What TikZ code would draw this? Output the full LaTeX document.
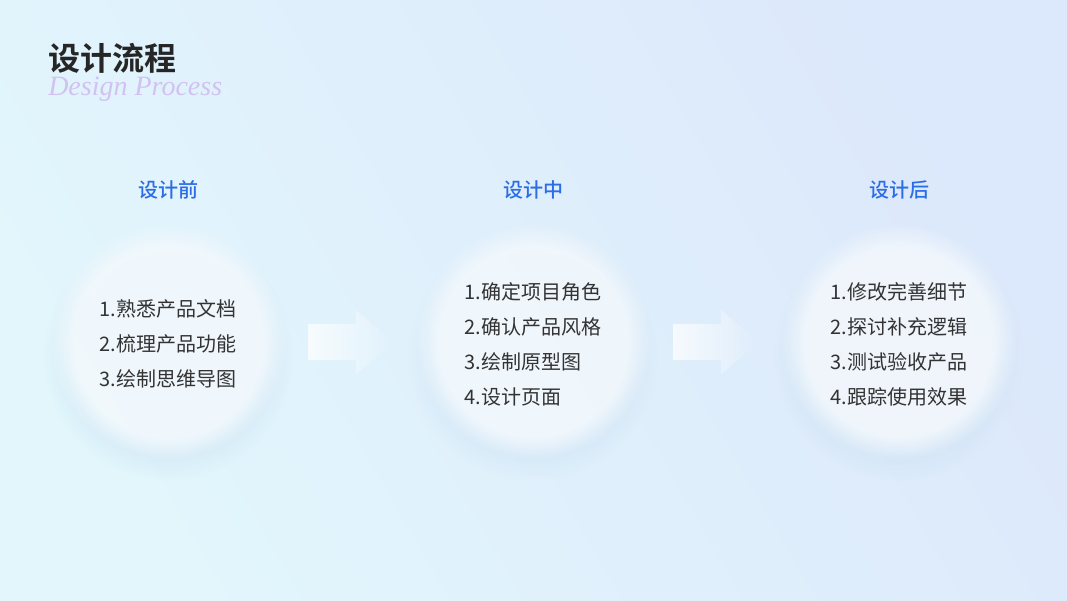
\documentclass[tikz,border=0pt]{standalone}
\usepackage{fontspec}
\setmainfont{Noto Sans CJK SC}
\newfontfamily\titlefont{Noto Sans CJK SC Bold}
\newfontfamily\headfont{Noto Sans CJK SC Medium}
\newfontfamily\handfont{Liberation Serif}
\usetikzlibrary{shapes.arrows,fadings,positioning}

\definecolor{bgtop}{HTML}{E2F6FC}
\definecolor{bgbot}{HTML}{DCE8FB}
\definecolor{glow}{HTML}{C9E0F2}
\definecolor{headblue}{HTML}{2B6DE6}
\definecolor{bodygray}{HTML}{333333}
\definecolor{pastel}{HTML}{D2C2F2}

\tikzset{
  stagehead/.style={text=headblue, font=\headfont\fontsize{15}{18}\selectfont},
  stagelist/.style={text=bodygray, font=\fontsize{15}{26.25}\selectfont, align=left},
  bubble/.style={circle, minimum size=236*0.75pt, inner sep=0pt,
    fill=white, fill opacity=0.62, path fading=circle with fuzzy edge 20 percent},
  bubbleshade/.style={circle, minimum size=250*0.75pt, inner sep=0pt,
    fill=glow, fill opacity=0.4, path fading=circle with fuzzy edge 20 percent},
  flowarrow/.style={fill=white, path fading=east, fill opacity=0.75}
}

\begin{document}
\begin{tikzpicture}[x=0.75pt,y=-0.75pt]
  % background
  \shade[left color=bgtop, right color=bgbot, shading angle=120]
    (0,0) rectangle (1067,600);
  \useasboundingbox (0,0) rectangle (1067,600);

  % title
  \node[text=black!85, font=\titlefont\fontsize{24}{28}\selectfont,
    anchor=west, inner sep=0pt] (title) at (48,58) {设计流程};
  \node[text=pastel, font=\handfont\itshape\fontsize{21}{22}\selectfont,
    anchor=north west, inner sep=0pt] (subtitle) at (48,77) {Design Process};

  % bubbles
  \node[bubbleshade] (s1) at (168,356) {};
  \node[bubbleshade] (s2) at (533,356) {};
  \node[bubbleshade] (s3) at (899,356) {};
  \node[bubble] (c1) at (168,342) {};
  \node[bubble] (c2) at (533,342) {};
  \node[bubble] (c3) at (899,342) {};

  % arrows between the stages
  \fill[flowarrow] (308,324) -- (356,324) -- (356,310) -- (394,342)
    -- (356,374) -- (356,360) -- (308,360) -- cycle;
  \fill[flowarrow] (673,324) -- (721,324) -- (721,310) -- (759,342)
    -- (721,374) -- (721,360) -- (673,360) -- cycle;

  % headings
  \node[stagehead] (h1) at (168,190) {设计前};
  \node[stagehead] (h2) at (533,190) {设计中};
  \node[stagehead] (h3) at (899,190) {设计后};

  % contents
  \node[stagelist] (l1) at (168,344) {1.熟悉产品文档\\2.梳理产品功能\\3.绘制思维导图};
  \node[stagelist] (l2) at (533,344) {1.确定项目角色\\2.确认产品风格\\3.绘制原型图\\4.设计页面};
  \node[stagelist] (l3) at (899,344) {1.修改完善细节\\2.探讨补充逻辑\\3.测试验收产品\\4.跟踪使用效果};
\end{tikzpicture}
\end{document}
